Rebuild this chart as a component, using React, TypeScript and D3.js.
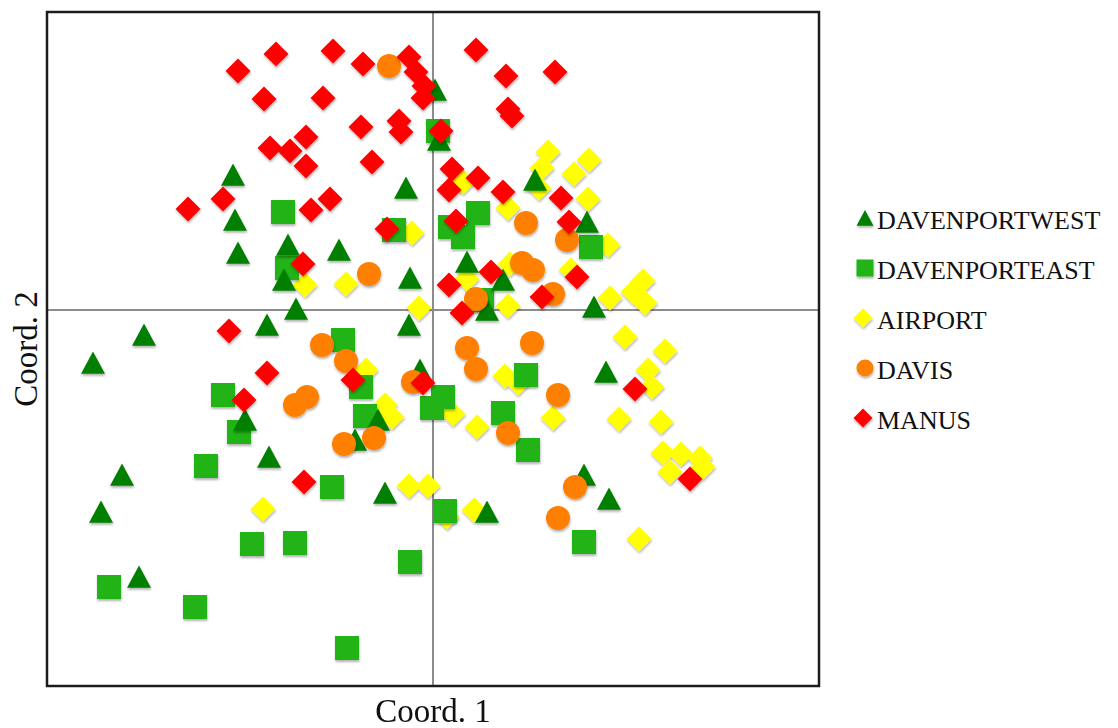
import React from "react";
import * as d3 from "d3";

// Series values (Coord. 1, Coord. 2)
const davenportWest: [number, number][] = [
  [-2.0, 1.35], [-1.98, 0.9], [-1.95, 0.57], [-1.45, 0.65], [-0.94, 0.6], [-0.27, 1.22],
  [-1.49, 0.3], [-0.23, 0.32], [-1.37, 0.01], [0.02, 2.2], [0.06, 1.7], [1.02, 1.3],
  [1.54, 0.88], [0.34, 0.48], [0.7, 0.3], [1.61, 0.03], [0.54, 0.0], [-3.4, -0.53],
  [-2.89, -0.25], [-1.66, -0.15], [-0.24, -0.15], [-1.88, -1.1], [-1.64, -1.47], [-3.11, -1.65],
  [-3.32, -2.02], [-2.94, -2.67], [-0.48, -1.83], [-0.78, -1.3], [-0.55, -1.1], [-0.13, -0.6],
  [1.73, -0.62], [1.51, -1.65], [1.76, -1.89], [0.54, -2.02],
];

const davenportEast: [number, number][] = [
  [-1.5, 0.98], [-1.46, 0.42], [-0.39, 0.8], [0.05, 1.79], [0.45, 0.97], [0.17, 0.83],
  [0.3, 0.73], [1.58, 0.63], [0.49, 0.1], [-0.9, -0.3], [-2.1, -0.85], [-1.94, -1.22],
  [-0.72, -0.77], [-0.68, -1.06], [0.1, -0.87], [-0.01, -0.98], [0.7, -1.03], [0.95, -1.4],
  [0.93, -0.65], [0.12, -2.01], [1.51, -2.32], [-2.27, -1.56], [-1.01, -1.77], [-1.81, -2.34],
  [-1.38, -2.33], [-0.23, -2.52], [-3.24, -2.77], [-2.38, -2.97], [-0.86, -3.38],
];

const airport: [number, number][] = [
  [-1.28, 0.25], [-0.87, 0.26], [-0.21, 0.77], [-0.14, 0.02], [-0.67, -0.6], [-0.48, -0.95],
  [-0.41, -1.07], [-0.24, -1.76], [-0.05, -1.76], [-1.7, -1.99], [1.15, 1.58], [1.09, 1.42],
  [1.41, 1.36], [1.56, 1.5], [0.3, 1.28], [1.06, 1.22], [1.55, 1.11], [0.75, 1.02],
  [1.75, 0.65], [0.77, 0.46], [0.34, 0.31], [1.38, 0.4], [0.75, 0.04], [1.77, 0.12],
  [2.0, 0.18], [2.1, 0.29], [2.12, 0.07], [1.92, -0.27], [2.32, -0.41], [2.15, -0.6],
  [2.19, -0.77], [0.72, -0.66], [0.85, -0.73], [0.2, -1.04], [0.44, -1.17], [1.2, -1.08],
  [1.86, -1.09], [2.28, -1.12], [2.3, -1.43], [2.48, -1.44], [2.67, -1.48], [2.37, -1.62],
  [2.7, -1.57], [0.41, -2.0], [0.14, -2.07], [2.06, -2.29],
];

const davis: [number, number][] = [
  [-0.44, 2.44], [-0.64, 0.36], [0.93, 0.87], [1.34, 0.7], [0.89, 0.47], [1.0, 0.4],
  [1.2, 0.16], [0.43, 0.11], [-1.11, -0.35], [-0.87, -0.51], [-1.26, -0.87], [-1.38, -0.95],
  [-0.2, -0.72], [-0.59, -1.28], [-0.89, -1.34], [0.34, -0.38], [0.99, -0.33], [0.43, -0.59],
  [1.25, -0.85], [0.75, -1.23], [1.42, -1.77], [1.25, -2.08],
];

const manus: [number, number][] = [
  [-1.95, 2.39], [-1.57, 2.56], [-1.0, 2.59], [-0.7, 2.46], [-0.24, 2.53], [-0.17, 2.38],
  [-0.09, 2.24], [-0.1, 2.12], [-1.69, 2.11], [-1.1, 2.12], [-0.72, 1.83], [-0.34, 1.89],
  [-0.32, 1.78], [0.08, 1.79], [-1.27, 1.73], [-1.63, 1.62], [-1.43, 1.59], [-1.27, 1.44],
  [-0.61, 1.48], [-2.1, 1.11], [-2.45, 1.01], [-1.03, 1.11], [-1.22, 1.0], [-0.46, 0.81],
  [-1.3, 0.46], [0.43, 2.6], [0.73, 2.34], [1.22, 2.38], [0.75, 2.01], [0.79, 1.94],
  [0.19, 1.41], [0.16, 1.2], [0.45, 1.32], [0.7, 1.18], [1.28, 1.12], [0.23, 0.89],
  [1.36, 0.88], [0.58, 0.38], [0.16, 0.25], [1.09, 0.13], [1.44, 0.33], [0.29, -0.03],
  [-2.04, -0.21], [-1.66, -0.63], [-1.89, -0.9], [-0.8, -0.7], [-0.1, -0.73], [-1.29, -1.72],
  [2.02, -0.79], [2.57, -1.69],
];

const legendLabels = ["DAVENPORTWEST", "DAVENPORTEAST", "AIRPORT", "DAVIS", "MANUS"];
const xLabel = "Coord. 1";
const yLabel = "Coord. 2";

type Shape = "triangle" | "square" | "diamond" | "circle";

function shapePath(shape: Shape, s: number): string {
  const h = s / 2;
  const p = d3.path();
  if (shape === "triangle") {
    p.moveTo(0, -h * 0.95);
    p.lineTo(h, h * 0.9);
    p.lineTo(-h, h * 0.9);
    p.closePath();
  } else if (shape === "square") {
    p.rect(-h, -h, s, s);
  } else if (shape === "diamond") {
    p.moveTo(0, -h);
    p.lineTo(h, 0);
    p.lineTo(0, h);
    p.lineTo(-h, 0);
    p.closePath();
  } else {
    p.arc(0, 0, h, 0, Math.PI * 2);
    p.closePath();
  }
  return p.toString();
}

export default function App() {
  const W = 1118;
  const H = 728;
  const left = 47, right = 819, top = 12, bottom = 686;
  const x = d3.scaleLinear().domain([-3.86, 3.86]).range([left, right]);
  const y = d3.scaleLinear().domain([-3.76, 2.98]).range([bottom, top]);

  const series: { name: string; data: [number, number][]; shape: Shape; color: string; size: number; legendSize: number }[] = [
    { name: legendLabels[0], data: davenportWest, shape: "triangle", color: "#007f00", size: 24, legendSize: 17 },
    { name: legendLabels[1], data: davenportEast, shape: "square", color: "#20b418", size: 24, legendSize: 17 },
    { name: legendLabels[2], data: airport, shape: "diamond", color: "#ffff00", size: 25, legendSize: 19 },
    { name: legendLabels[3], data: davis, shape: "circle", color: "#ff7f00", size: 24, legendSize: 17 },
    { name: legendLabels[4], data: manus, shape: "diamond", color: "#ff0000", size: 25, legendSize: 19 },
  ];
  const drawOrder = [2, 1, 0, 3, 4];

  return (
    <div style={{ position: "absolute", left: 0, top: 0 }}>
      <svg width={W} height={H} style={{ display: "block", background: "#fff" }}>
        <defs>
          <filter id="sh" x="-50%" y="-50%" width="200%" height="200%">
            <feDropShadow dx="0.5" dy="2" stdDeviation="1.3" floodColor="#000" floodOpacity="0.3" />
          </filter>
        </defs>
        {/* zero lines */}
        <line x1={x(0)} x2={x(0)} y1={top} y2={bottom} stroke="#8c8c8c" strokeWidth={2} />
        <line x1={left} x2={right} y1={y(0)} y2={y(0)} stroke="#8c8c8c" strokeWidth={2} />
        {/* points */}
        {drawOrder.map((si) => {
          const s = series[si];
          return (
            <g key={s.name} filter="url(#sh)">
              {s.data.map((d, i) => (
                <path
                  key={i}
                  d={shapePath(s.shape, s.size)}
                  transform={`translate(${x(d[0])},${y(d[1])})`}
                  fill={s.color}
                />
              ))}
            </g>
          );
        })}
        {/* frame */}
        <rect x={left} y={top} width={right - left} height={bottom - top} fill="none" stroke="#1c1c1c" strokeWidth={2.5} />
        {/* axis labels */}
        <text x={(left + right) / 2} y={722} textAnchor="middle" fontFamily="'Liberation Serif', serif" fontSize={33} fill="#111">
          {xLabel}
        </text>
        <text
          transform={`translate(37,${(top + bottom) / 2}) rotate(-90)`}
          textAnchor="middle"
          fontFamily="'Liberation Serif', serif"
          fontSize={33}
          fill="#111"
        >
          {yLabel}
        </text>
        {/* legend */}
        {series.map((s, i) => {
          const cy = 218 + i * 50;
          return (
            <g key={s.name}>
              <path d={shapePath(s.shape, s.legendSize)} transform={`translate(${s.shape === "diamond" ? 863 : 865},${cy})`} fill={s.color} filter="url(#sh)" />
              <text x={877} y={cy + 11} fontFamily="'Liberation Serif', serif" fontSize={26} fill="#111">
                {s.name}
              </text>
            </g>
          );
        })}
      </svg>
    </div>
  );
}
